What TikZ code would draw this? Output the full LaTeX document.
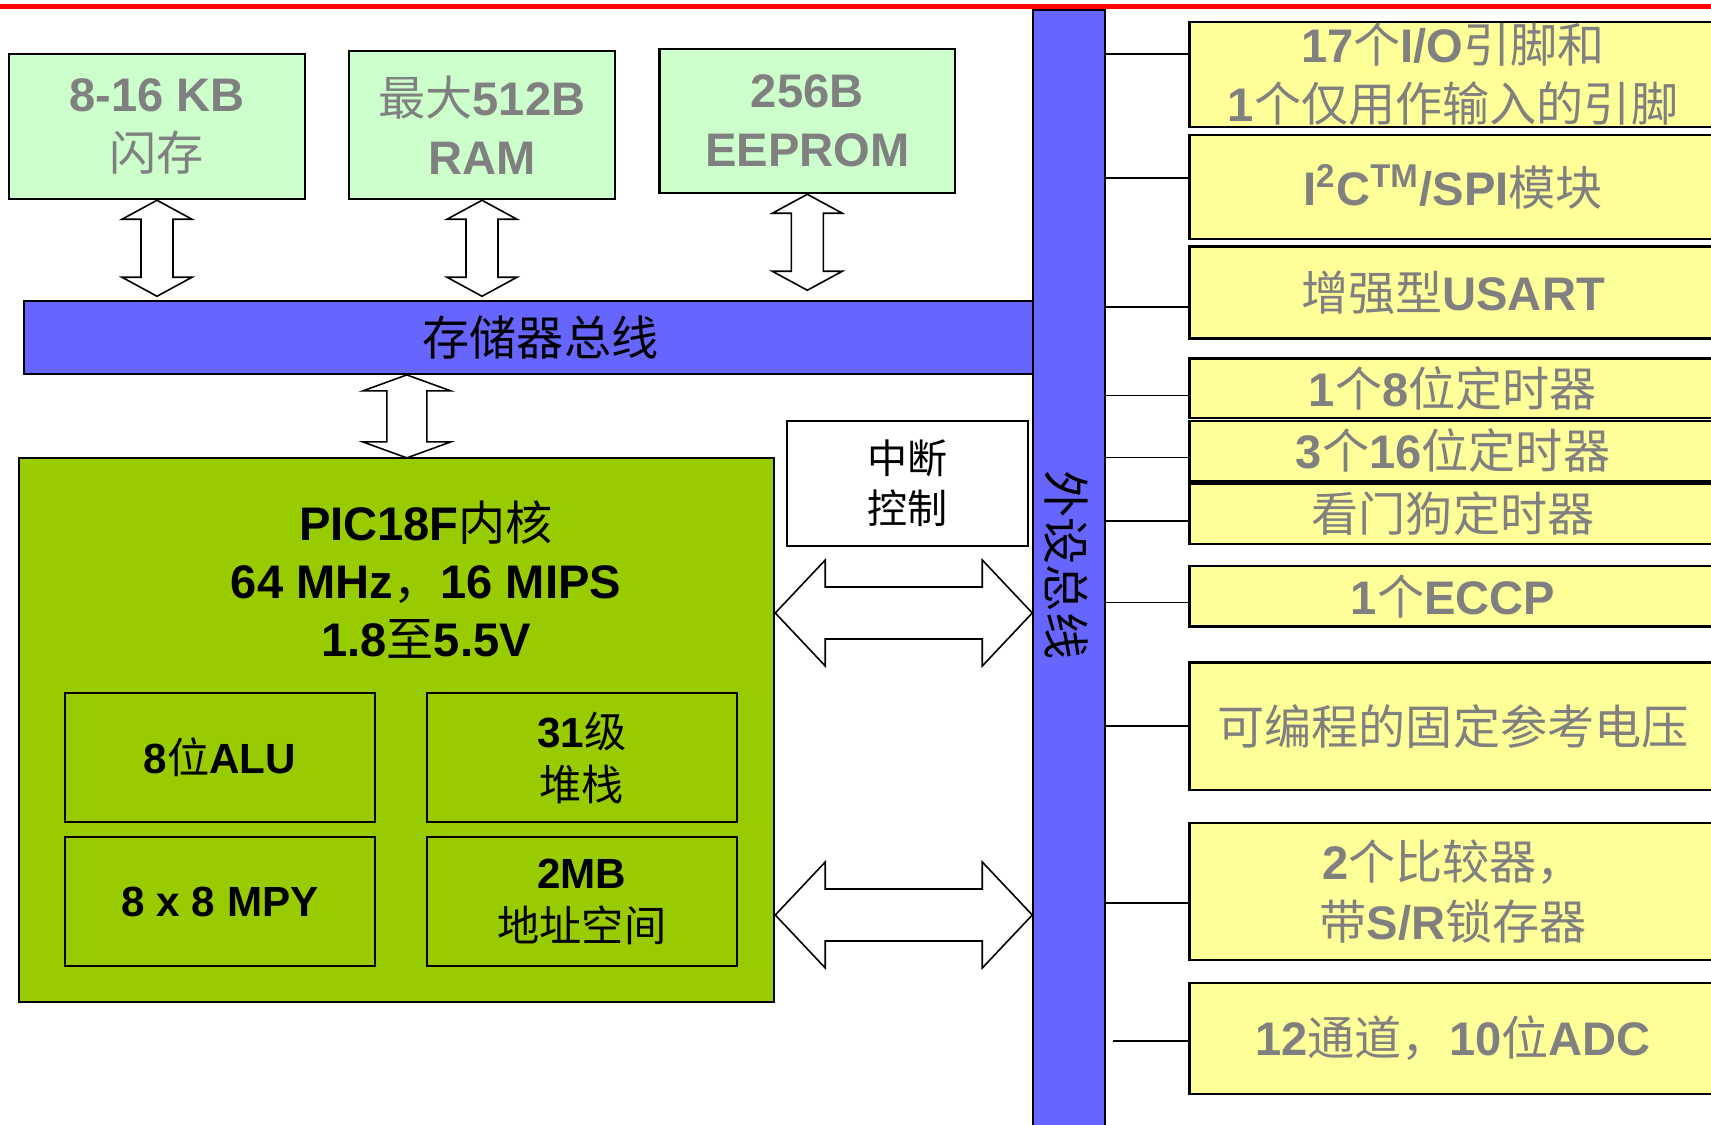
\documentclass[tikz,border=0pt]{standalone}
\usepackage{fontspec}
\setmainfont{Liberation Sans}
\newfontfamily\cjk{Noto Sans CJK SC}
\newcommand\zh[1]{{\cjk\mdseries #1}}
\definecolor{memgreen}{HTML}{CCFFCC}
\definecolor{coregreen}{HTML}{99CC00}
\definecolor{busblue}{HTML}{6666FF}
\definecolor{peryellow}{HTML}{FFFF99}
\definecolor{labelgray}{HTML}{808080}

\begin{document}
\begin{tikzpicture}[x=0.01cm, y=-0.01cm,
  membox/.style={draw=black, line width=0.7pt, fill=memgreen, text=labelgray, align=center, inner sep=0pt, font=\fontsize{13.4}{16.8}\selectfont\bfseries},
  perbox/.style={draw=black, line width=0.8pt, fill=peryellow, text=labelgray, align=center, inner sep=0pt, minimum width=5.26cm, font=\fontsize{13.4}{16.8}\selectfont\bfseries},
  corebox/.style={draw=black, line width=0.6pt, fill=coregreen},
  cell/.style={draw=black, line width=0.55pt, fill=coregreen, align=center, inner sep=0pt, minimum width=3.1cm, minimum height=1.29cm, font=\fontsize{12}{15.2}\selectfont\bfseries},
  busbar/.style={draw=black, line width=0.5pt, fill=busblue, inner sep=0pt, font=\fontsize{13.4}{16.8}\selectfont},
  link/.style={draw=black, line width=0.5pt},
  hollow/.style={draw=black, line width=0.45pt, fill=white, line join=miter},
  pics/dblarrow/.style n args={4}{code={
    \draw[hollow] (0,0) -- (#4,#3) -- (#4,#2) -- ({#1-#4},#2) -- ({#1-#4},#3) -- (#1,0)
      -- ({#1-#4},-#3) -- ({#1-#4},-#2) -- (#4,-#2) -- (#4,-#3) -- cycle;
  }}
]
\useasboundingbox (0,0) rectangle (1711,1125);
\draw[red, line width=1.3pt] (0,6.3) -- (1711,6.3);

% memories
\node[membox, minimum width=2.96cm, minimum height=1.45cm] (flash) at (157,126.5) {8-16 KB\\\zh{闪存}};
\node[membox, minimum width=2.66cm, minimum height=1.48cm] (ram) at (482,125) {\zh{最大}512B\\RAM};
\node[membox, minimum width=2.955cm, minimum height=1.44cm] (eeprom) at (807.3,121) {256B\\EEPROM};

% buses
\node[busbar, minimum width=10.33cm, minimum height=0.73cm] (mbus) at (540.5,337.5) {\zh{存储器总线}};
\node[busbar, minimum width=0.72cm, minimum height=11.2cm] (pbus) at (1069,570) {};
\node[rotate=-90, font=\fontsize{13.4}{16.8}\selectfont] (pbuslabel) at (1066,565) {\zh{外设总线}};

% core
\node[corebox, minimum width=7.544cm, minimum height=5.44cm] (core) at (396.8,730) {};
\node[align=center, font=\fontsize{13.4}{16.5}\selectfont\bfseries] (corehead) at (426,579.4) {PIC18F\zh{内核}\\64 MHz\zh{，}16 MIPS\\1.8\zh{至}5.5V};
\node[cell] (alu) at (220,757.7) {8\zh{位}ALU};
\node[cell] (stack) at (581.8,757.7) {31\zh{级}\\\zh{堆栈}};
\node[cell] (mpy) at (220,901.7) {8 x 8 MPY};
\node[cell] (addr) at (581.8,901.7) {2MB\\\zh{地址空间}};

\node[draw=black, line width=0.5pt, fill=white, minimum width=2.41cm, minimum height=1.25cm, align=center, font=\fontsize{11.4}{14.3}\selectfont] (irq) at (907.5,483.5) {\zh{中断}\\\zh{控制}};

% hollow arrows
\path (flash.south) pic[rotate=-90] {dblarrow={96}{16}{35}{19}};
\path (ram.south) pic[rotate=-90] {dblarrow={96}{16}{35}{19}};
\path (eeprom.south) pic[rotate=-90] {dblarrow={96}{16}{35}{19}};
\path (mbus.south -| core.north) ++(10,0) pic[rotate=-90] {dblarrow={83}{20}{44}{16}};
\coordinate (tapA) at (0,613);
\coordinate (tapB) at (0,915);
\path (core.east |- tapA) pic {dblarrow={257}{26}{53}{50}};
\path (core.east |- tapB) pic {dblarrow={257}{26}{53}{50}};

% peripherals
\node[perbox, minimum height=1.05cm] (io) at (1453,74.5) {17\zh{个}I/O\zh{引脚和}\\1\zh{个仅用作输入的引脚}};
\node[perbox, minimum height=1.04cm] (spi) at (1453,187) {I\textsuperscript{2}C\textsuperscript{TM}/SPI\zh{模块}};
\node[perbox, minimum height=0.92cm] (usart) at (1453,292.5) {\zh{增强型}USART};
\node[perbox, minimum height=0.595cm] (tmrA) at (1453,388.3) {1\zh{个}8\zh{位定时器}};
\node[perbox, minimum height=0.6cm] (tmrB) at (1453,451) {3\zh{个}16\zh{位定时器}};
\node[perbox, minimum height=0.605cm] (wdt) at (1453,513.8) {\zh{看门狗定时器}};
\node[perbox, minimum height=0.605cm] (eccp) at (1453,596.3) {1\zh{个}ECCP};
\node[perbox, minimum height=1.275cm] (vref) at (1453,726.3) {\zh{可编程的固定参考电压}};
\node[perbox, minimum height=1.37cm] (cmp) at (1453,891.5) {2\zh{个比较器，}\\\zh{带}S/R\zh{锁存器}};
\node[perbox, minimum height=1.11cm] (adc) at (1453,1038.5) {12\zh{通道，}10\zh{位}ADC};

\foreach \p/\y in {io/54,spi/178,usart/307,tmrA/395.5,tmrB/457.5,wdt/521,eccp/602.5,vref/726,cmp/903}{
  \coordinate (tap) at (0,\y);
  \draw[link] (pbus.east |- tap) -- (\p.west |- tap);
}
\coordinate (adcstub) at (1113,1041);
\draw[link] (adcstub) -- (adc.west |- adcstub);
\end{tikzpicture}
\end{document}
